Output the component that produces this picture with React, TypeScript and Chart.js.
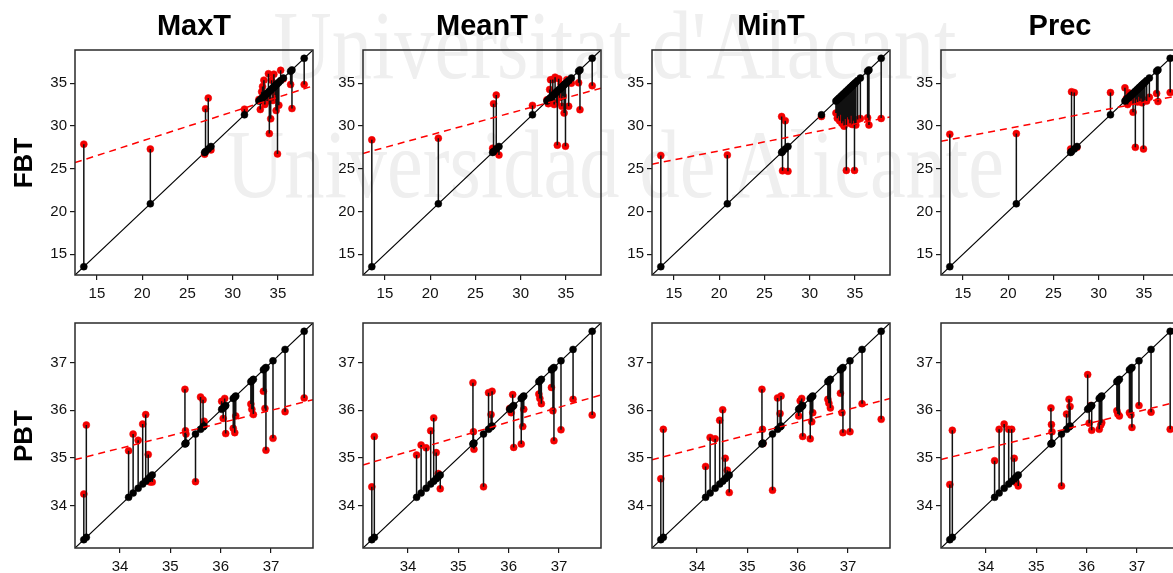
import React, { useEffect, useRef } from 'react';
import { Chart, registerables } from 'chart.js';

Chart.register(...registerables);

// Column (variable) and row (index) headings
const COLUMN_TITLES = ['MaxT', 'MeanT', 'MinT', 'Prec'];
const ROW_TITLES = ['FBT', 'PBT'];

// FBT: observed value per station and the value given by each variable
const FBT_OBSERVED = [13.55, 20.9, 26.9, 27.0, 27.3, 27.6, 31.3, 32.9, 33.05, 33.2, 33.3, 33.45, 33.55, 33.7, 33.8, 33.95, 34.05, 34.2, 34.3, 34.45, 34.55, 34.7, 34.8, 34.95, 35.1, 35.3, 35.6, 36.4, 36.55, 37.9];
const FBT_MAXT = [27.87, 27.3, 26.7, 32.0, 33.25, 27.2, 31.96, 33.1, 31.92, 34.0, 34.6, 35.35, 32.5, 33.4, 32.9, 36.1, 29.1, 30.83, 35.35, 32.97, 36.05, 33.6, 31.8, 26.73, 32.42, 36.5, 35.5, 34.84, 32.03, 34.84];
const FBT_MEANT = [28.37, 28.57, 27.4, 32.6, 33.6, 26.6, 32.4, 33.05, 32.6, 34.26, 35.39, 32.9, 35.43, 32.5, 35.7, 32.7, 27.75, 35.5, 33.3, 34.9, 32.3, 33.5, 31.5, 27.63, 35.4, 32.3, 35.0, 35.04, 31.9, 34.7];
const FBT_MINT = [26.54, 26.6, 31.1, 24.75, 30.6, 24.7, 31.1, 31.5, 30.9, 31.14, 30.6, 31.3, 30.3, 30.55, 29.97, 30.8, 24.8, 31.0, 30.75, 30.3, 31.2, 30.16, 30.6, 24.8, 30.1, 30.75, 30.87, 30.95, 30.1, 30.87];
const FBT_PREC = [29.03, 29.1, 27.3, 34.0, 33.9, 27.5, 33.9, 34.45, 33.2, 32.5, 33.87, 33.5, 32.9, 33.6, 31.6, 33.28, 27.5, 33.1, 32.8, 33.4, 32.9, 33.2, 32.7, 27.3, 33.0, 32.9, 33.36, 33.8, 32.85, 33.9];

// PBT: observed value per station and the value given by each variable
const PBT_OBSERVED = [33.28, 33.33, 34.17, 34.26, 34.36, 34.45, 34.51, 34.56, 34.6, 34.64, 35.29, 35.3, 35.31, 35.5, 35.6, 35.65, 35.67, 36.02, 36.05, 36.08, 36.1, 36.25, 36.28, 36.3, 36.6, 36.62, 36.65, 36.85, 36.88, 36.9, 37.04, 37.28, 37.66];
const PBT_MAXT = [34.24, 35.69, 35.15, 35.5, 35.37, 35.71, 35.91, 35.07, 34.49, 34.49, 36.44, 35.57, 35.5, 34.5, 36.28, 36.22, 35.77, 36.19, 35.83, 36.25, 35.51, 35.62, 35.53, 35.88, 36.13, 36.02, 35.91, 36.4, 36.04, 35.16, 35.41, 35.97, 36.26];
const PBT_MEANT = [34.39, 35.45, 35.06, 35.27, 35.21, 35.57, 35.84, 35.11, 34.67, 34.35, 36.58, 35.55, 35.18, 34.39, 36.37, 35.91, 36.4, 36.04, 35.95, 36.33, 35.22, 35.29, 35.66, 36.02, 36.34, 36.25, 36.14, 36.48, 35.99, 35.36, 35.59, 36.23, 35.9];
const PBT_MINT = [34.56, 35.6, 34.82, 35.43, 35.4, 35.79, 36.01, 34.99, 34.74, 34.27, 36.44, 35.6, 35.3, 34.32, 36.26, 35.93, 36.3, 35.88, 36.2, 36.25, 35.45, 35.4, 35.76, 35.95, 36.23, 36.15, 36.05, 36.36, 35.95, 35.53, 35.55, 36.14, 35.81];
const PBT_PREC = [34.44, 35.58, 34.94, 35.6, 35.71, 35.6, 35.6, 34.99, 34.48, 34.41, 36.05, 35.7, 35.55, 34.41, 35.92, 36.23, 36.08, 36.75, 35.73, 36.1, 35.58, 35.6, 35.69, 35.74, 35.99, 35.92, 35.88, 35.95, 35.9, 35.64, 36.1, 35.96, 35.6];

// Axis tick values for each row
const FBT_TICKS = [15, 20, 25, 30, 35];
const PBT_TICKS = [34, 35, 36, 37];

const ROWS = [
  { observed: FBT_OBSERVED, predicted: [FBT_MAXT, FBT_MEANT, FBT_MINT, FBT_PREC], ticks: FBT_TICKS },
  { observed: PBT_OBSERVED, predicted: [PBT_MAXT, PBT_MEANT, PBT_MINT, PBT_PREC], ticks: PBT_TICKS },
];

// Layout of the panel grid (plot-area corners, in page pixels)
const PLOT_LEFT = [75, 363, 652, 941];
const PLOT_TOP = [50, 323];
const PLOT_W = 238;
const PLOT_H = 225;
const Y_AXIS_W = 50;
const X_AXIS_H = 40;
const PAD = 16;

const SANS = "'Liberation Sans', Arial, Helvetica, sans-serif";
const SERIF = "'Liberation Serif', 'Times New Roman', serif";

// Least-squares line of predicted on observed
function fitLine(xs: number[], ys: number[]) {
  const n = xs.length;
  const mx = xs.reduce((a, b) => a + b, 0) / n;
  const my = ys.reduce((a, b) => a + b, 0) / n;
  let sxy = 0;
  let sxx = 0;
  for (let i = 0; i < n; i++) {
    sxy += (xs[i] - mx) * (ys[i] - my);
    sxx += (xs[i] - mx) * (xs[i] - mx);
  }
  const slope = sxy / sxx;
  return { slope, intercept: my - slope * mx };
}

// Closed box around the plotting region
const panelFrame = {
  id: 'panelFrame',
  afterDatasetsDraw(chart: any) {
    const { ctx, chartArea: a } = chart;
    ctx.save();
    ctx.strokeStyle = '#2a2a2a';
    ctx.lineWidth = 1.5;
    ctx.strokeRect(a.left, a.top, a.right - a.left, a.bottom - a.top);
    ctx.restore();
  },
};

function axisOptions(ticks: number[], lo: number, hi: number, isX: boolean) {
  return {
    type: 'linear',
    position: isX ? 'bottom' : 'left',
    min: lo,
    max: hi,
    afterBuildTicks: (scale: any) => {
      scale.ticks = ticks.map((v) => ({ value: v }));
    },
    afterFit: (scale: any) => {
      if (isX) scale.height = X_AXIS_H;
      else scale.width = Y_AXIS_W;
    },
    grid: {
      display: true,
      drawOnChartArea: false,
      drawTicks: true,
      tickLength: 5,
      color: '#1a1a1a',
      lineWidth: 1.2,
    },
    border: { display: false },
    ticks: {
      color: '#111',
      font: { family: SANS, size: 15 },
      padding: isX ? 5 : 3,
      maxRotation: 0,
      minRotation: 0,
      autoSkip: false,
    },
  };
}

function Panel({ observed, predicted, ticks, left, top }: any) {
  const ref = useRef<HTMLCanvasElement | null>(null);
  const width = Y_AXIS_W + PLOT_W + PAD;
  const height = PAD + PLOT_H + X_AXIS_H;

  useEffect(() => {
    if (!ref.current) return;
    const min = Math.min(...observed);
    const max = Math.max(...observed);
    const lo = min - 0.04 * (max - min);
    const hi = max + 0.04 * (max - min);
    const { slope, intercept } = fitLine(observed, predicted);

    const segments: any[] = [];
    observed.forEach((x: number, i: number) => {
      segments.push({ x, y: x }, { x, y: predicted[i] }, { x, y: null });
    });

    const chart = new Chart(ref.current, {
      type: 'scatter',
      data: {
        datasets: [
          {
            type: 'line',
            data: [
              { x: lo, y: intercept + slope * lo },
              { x: hi, y: intercept + slope * hi },
            ],
            borderColor: '#ff0000',
            borderWidth: 1.5,
            borderDash: [7, 5],
            pointRadius: 0,
            order: 0,
          },
          {
            data: observed.map((x: number) => ({ x, y: x })),
            pointBackgroundColor: '#000',
            pointBorderColor: '#000',
            pointBorderWidth: 0.5,
            pointRadius: 3.5,
            order: 1,
          },
          {
            type: 'line',
            data: segments,
            borderColor: '#111',
            borderWidth: 1.5,
            pointRadius: 0,
            spanGaps: false,
            order: 2,
          },
          {
            data: observed.map((x: number, i: number) => ({ x, y: predicted[i] })),
            pointBackgroundColor: '#f20000',
            pointBorderColor: '#f20000',
            pointBorderWidth: 0.5,
            pointRadius: 3.5,
            order: 3,
          },
          {
            type: 'line',
            data: [
              { x: lo, y: lo },
              { x: hi, y: hi },
            ],
            borderColor: '#000',
            borderWidth: 1.2,
            pointRadius: 0,
            order: 4,
          },
        ],
      } as any,
      options: {
        animation: false,
        responsive: false,
        devicePixelRatio: 1,
        events: [],
        layout: { padding: { left: 0, top: PAD, right: PAD, bottom: 0 } },
        plugins: { legend: { display: false }, tooltip: { enabled: false } },
        scales: {
          x: axisOptions(ticks, lo, hi, true),
          y: axisOptions(ticks, lo, hi, false),
        },
      } as any,
      plugins: [panelFrame],
    });
    return () => chart.destroy();
  }, []);

  return (
    <canvas
      ref={ref}
      width={width}
      height={height}
      style={{
        position: 'absolute',
        left: left - Y_AXIS_W,
        top: top - PAD,
        width,
        height,
      }}
    />
  );
}

const TITLE_SIZE = 29;
const ROW_LABEL_SIZE = 26;
const WM_SIZE = 80.5;
const WM_BASE = 0.8375 * WM_SIZE;

export default function App() {
  const watermark = (text: string, baseline: number) => (
    <div
      style={{
        position: 'absolute',
        left: 615,
        top: baseline - WM_BASE,
        transform: 'translateX(-50%) scaleY(1.2)',
        transformOrigin: `50% ${WM_BASE}px`,
        whiteSpace: 'nowrap',
        fontFamily: SERIF,
        fontSize: WM_SIZE,
        lineHeight: `${WM_SIZE}px`,
        color: '#efefef',
      }}
    >
      {text}
    </div>
  );

  return (
    <div
      style={{
        position: 'fixed',
        left: 0,
        top: 0,
        width: 1173,
        height: 573,
        overflow: 'hidden',
        background: '#fff',
      }}
    >
      {watermark("Universitat d'Alacant", 78)}
      {watermark('Universidad de Alicante', 197)}

      {ROWS.map((row, r) =>
        row.predicted.map((pred, c) => (
          <Panel
            key={`${r}-${c}`}
            observed={row.observed}
            predicted={pred}
            ticks={row.ticks}
            left={PLOT_LEFT[c]}
            top={PLOT_TOP[r]}
          />
        ))
      )}

      {COLUMN_TITLES.map((t, c) => (
        <div
          key={t}
          style={{
            position: 'absolute',
            left: PLOT_LEFT[c] + PLOT_W / 2,
            top: 10.5,
            transform: 'translateX(-50%)',
            fontFamily: SANS,
            fontWeight: 'bold',
            fontSize: TITLE_SIZE,
            lineHeight: `${TITLE_SIZE}px`,
            whiteSpace: 'nowrap',
            color: '#000',
          }}
        >
          {t}
        </div>
      ))}

      {ROW_TITLES.map((t, r) => (
        <div
          key={t}
          style={{
            position: 'absolute',
            left: 22.5,
            top: PLOT_TOP[r] + PLOT_H / 2,
            transform: 'translate(-50%, -50%) rotate(-90deg)',
            fontFamily: SANS,
            fontWeight: 'bold',
            fontSize: ROW_LABEL_SIZE,
            lineHeight: `${ROW_LABEL_SIZE}px`,
            whiteSpace: 'nowrap',
            color: '#000',
          }}
        >
          {t}
        </div>
      ))}
    </div>
  );
}
